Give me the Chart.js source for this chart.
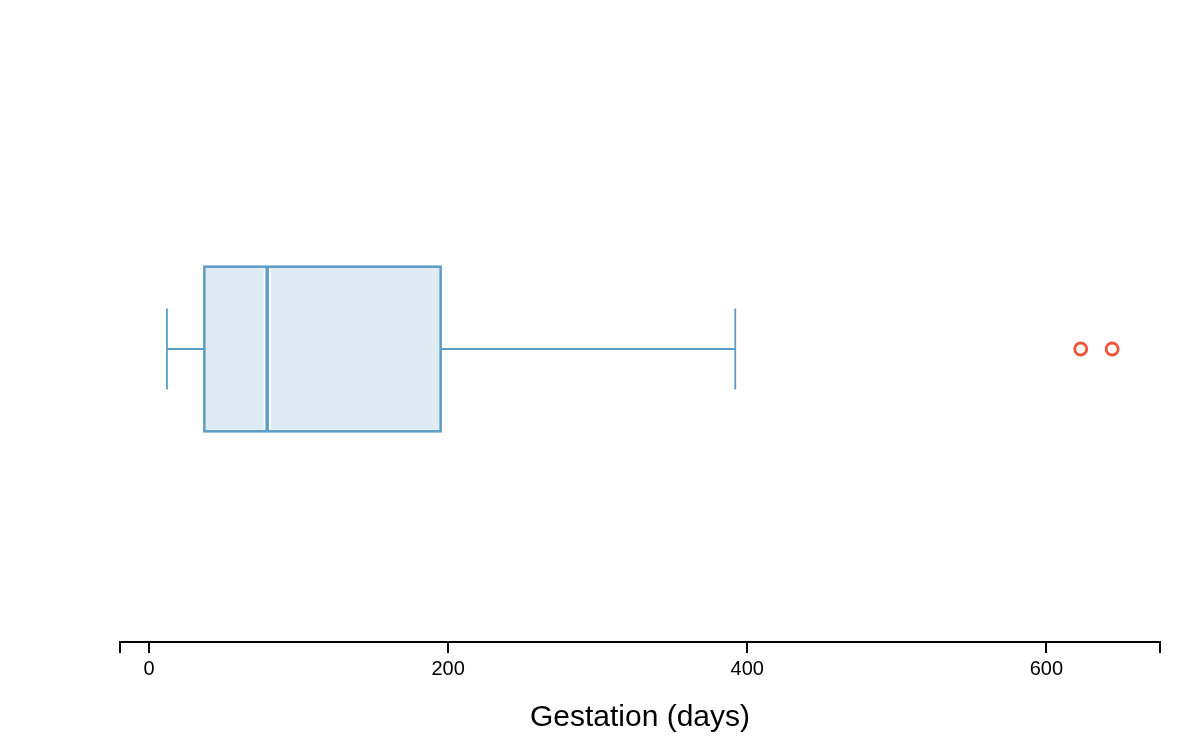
<!DOCTYPE html>
<html>
<head>
<meta charset="utf-8">
<script src="https://cdn.jsdelivr.net/npm/chart.js@4"></script>
<style>
  html, body { margin: 0; padding: 0; background: #fff; }
  #wrap { width: 1200px; height: 742px; }
</style>
</head>
<body>
<div id="wrap"><canvas id="chart"></canvas></div>
<script>
// five-number summary of gestation (days)
const boxStats = [12, 37, 79, 195, 392]; // whiskerLow, q1, median, q3, whiskerHigh
const outliers = [623, 644];
const tickValues = [0, 200, 400, 600];
const tickLabels = ['0', '200', '400', '600'];
const axisRange = [-19.4, 676];

const BLUE = '#5b9ec5';
const FILL = '#dfebf3';
const RED = '#f0553a';

// box, whiskers and median drawn through the chart scales
const boxPlugin = {
  id: 'boxPlot',
  beforeDatasetsDraw(chart) {
    const { ctx, scales: { x, y } } = chart;
    const [lo, q1, med, q3, hi] = boxStats.map(v => x.getPixelForValue(v));
    const yc = y.getPixelForValue(0);
    const boxTop = y.getPixelForValue(0.281), boxBot = y.getPixelForValue(-0.281);
    const capTop = y.getPixelForValue(0.138), capBot = y.getPixelForValue(-0.138);

    ctx.save();
    ctx.lineWidth = 1.8;
    ctx.strokeStyle = BLUE;
    ctx.beginPath();
    ctx.moveTo(lo, yc); ctx.lineTo(q1, yc);
    ctx.moveTo(q3, yc); ctx.lineTo(hi, yc);
    ctx.moveTo(lo, capTop); ctx.lineTo(lo, capBot);
    ctx.moveTo(hi, capTop); ctx.lineTo(hi, capBot);
    ctx.stroke();

    ctx.fillStyle = FILL;
    ctx.fillRect(q1, boxTop, q3 - q1, boxBot - boxTop);
    ctx.lineWidth = 2.5;
    ctx.strokeRect(q1, boxTop, q3 - q1, boxBot - boxTop);

    ctx.strokeStyle = '#fff';
    ctx.lineWidth = 7;
    ctx.beginPath();
    ctx.moveTo(med, boxTop + 2); ctx.lineTo(med, boxBot - 2);
    ctx.stroke();
    ctx.strokeStyle = BLUE;
    ctx.lineWidth = 3.5;
    ctx.beginPath();
    ctx.moveTo(med, boxTop); ctx.lineTo(med, boxBot);
    ctx.stroke();
    ctx.restore();
  }
};

new Chart(document.getElementById('chart'), {
  type: 'scatter',
  data: {
    datasets: [{
      data: outliers.map(v => ({ x: v, y: 0 })),
      pointRadius: 6,
      pointBorderWidth: 2.8,
      pointBackgroundColor: '#fff',
      pointBorderColor: RED,
    }],
  },
  options: {
    responsive: true,
    maintainAspectRatio: false,
    animation: false,
    layout: { padding: { left: 120, right: 40, top: 56, bottom: 6 } },
    plugins: { legend: { display: false }, tooltip: { enabled: false } },
    scales: {
      x: {
        type: 'linear',
        min: axisRange[0], max: axisRange[1],
        afterBuildTicks: (axis) => {
          axis.ticks = [axisRange[0], ...tickValues, axisRange[1]].map(v => ({ value: v }));
        },
        border: { display: true, color: '#000', width: 2 },
        grid: { drawOnChartArea: false, drawTicks: true, tickLength: 11, color: '#000', lineWidth: 2 },
        ticks: {
          autoSkip: false,
          maxRotation: 0,
          padding: 4,
          color: '#000',
          font: { family: 'Liberation Sans', size: 20 },
          callback: (v) => {
            const i = tickValues.indexOf(v);
            return i >= 0 ? tickLabels[i] : '';
          },
        },
        title: {
          display: true,
          text: 'Gestation (days)',
          color: '#000',
          font: { family: 'Liberation Sans', size: 30 },
          padding: { top: 15, bottom: 0 },
        },
      },
      y: {
        type: 'linear',
        min: -1, max: 1,
        display: false,
      },
    },
  },
  plugins: [boxPlugin],
});
</script>
</body>
</html>
